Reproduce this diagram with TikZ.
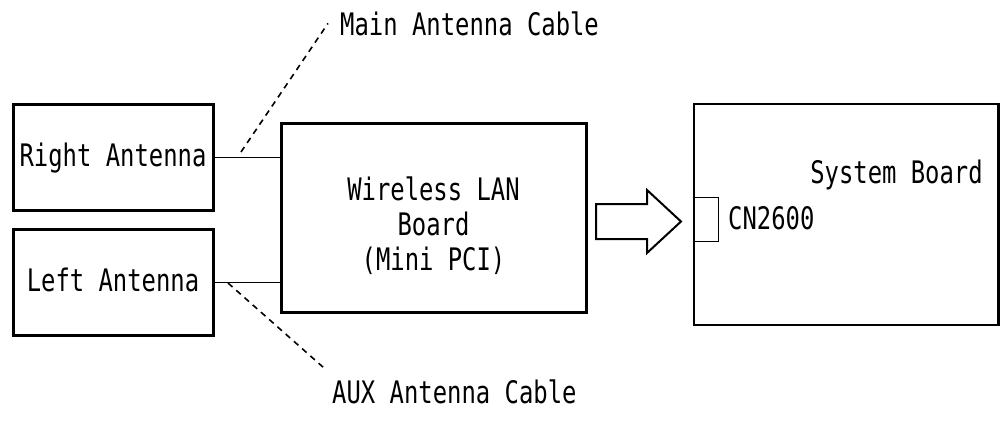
\documentclass[tikz,border=0pt]{standalone}
\usepackage{fontspec}
\newfontfamily\diagfont[FakeStretch=0.77]{DejaVu Sans Mono}
\usetikzlibrary{positioning}

\begin{document}
\begin{tikzpicture}[x=1pt,y=-1pt,
    font=\diagfont\fontsize{31pt}{35pt}\selectfont,
    antbox/.style={draw,line width=3pt,minimum width=200pt,minimum height=106pt,
      inner sep=0pt,text height=22pt,text depth=4pt},
    board/.style={draw,line width=3pt,inner sep=0pt},
    cable/.style={line width=1pt},
    leader/.style={line width=1.6pt,dash pattern=on 6pt off 5pt},
    bigarrow/.style={line width=2pt,line join=miter}]
    \useasboundingbox (0,0) rectangle (1001,424);
    % antennas
    \node[antbox] (rant) at (113,157) {Right Antenna};
    \node[antbox] (lant) at (113,282.5) {Left Antenna};
    % wireless lan board
    \node[board,minimum width=305pt,minimum height=189pt] (wlan) at (433.5,217.5) {};
    \node[align=center,inner sep=0pt] (wltext) at ([yshift=-8pt]wlan.center)
      {Wireless LAN\\Board\\(Mini PCI)};
    % system board
    \node[board,line width=2.5pt,minimum width=304.5pt,minimum height=221pt] (sys)
      at (846.25,214.5) {};
    \node[anchor=base,inner sep=0pt] (systext) at (896.5,183) {System Board};
    \node[draw,line width=1pt,minimum width=25pt,minimum height=44pt,inner sep=0pt,
      anchor=west] (cn) at (sys.west |- 0,219) {};
    \node[anchor=base west,inner sep=0pt] (cntext) at (728,229) {CN2600};
    % cables
    \draw[cable] (rant.east) -- (rant.east -| wlan.west);
    \draw[cable] (lant.east) -- (lant.east -| wlan.west);
    % leaders
    \coordinate (mainpt) at (241,152);
    \coordinate (auxpt) at (228,283);
    \node[anchor=base west,inner sep=0pt] (mainlbl) at (340,35) {Main Antenna Cable};
    \node[anchor=base west,inner sep=0pt] (auxlbl) at (332,403) {AUX Antenna Cable};
    \draw[leader] (mainpt) -- ([xshift=-12pt]mainlbl.west);
    \draw[leader] (auxpt) -- ([shift={(-9pt,12pt)}]auxlbl.north west);
    % install arrow
    \draw[bigarrow] (596,204) -- (647,204) -- (647,190) -- (681,221.5)
      -- (647,253) -- (647,239) -- (596,239) -- cycle;
\end{tikzpicture}
\end{document}
